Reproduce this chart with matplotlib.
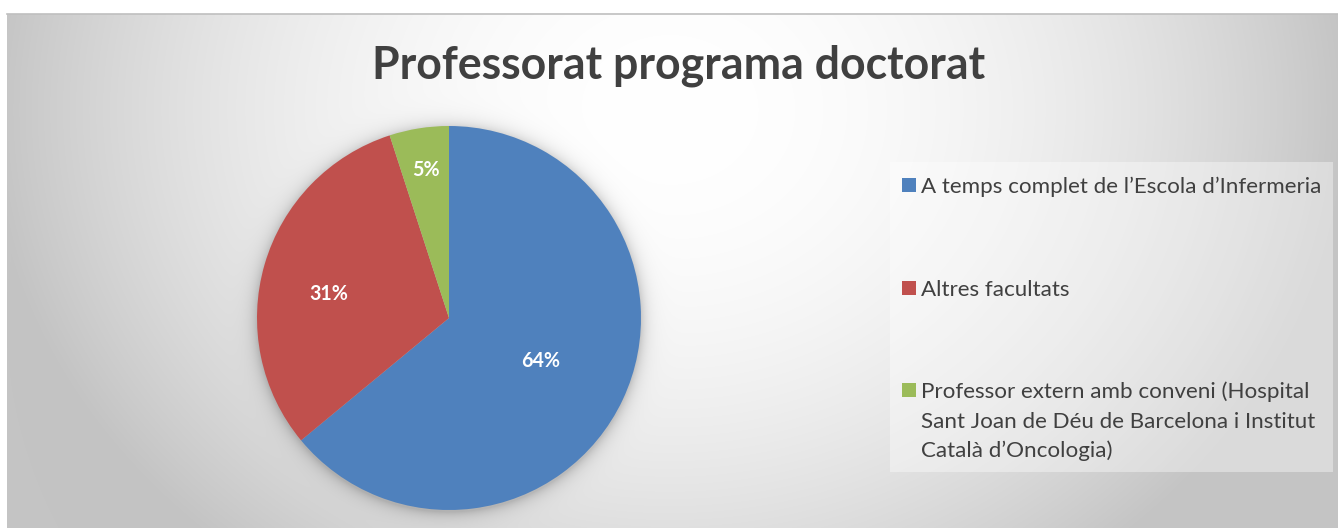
import numpy as np
import matplotlib
matplotlib.use("Agg")
import matplotlib.pyplot as plt
from matplotlib.patches import Rectangle
from matplotlib.lines import Line2D

# ---------------- data ----------------
title = "Professorat programa doctorat"
categories = [
    "A temps complet de l\u2019Escola d\u2019Infermeria",
    "Altres facultats",
    "Professor extern amb conveni (Hospital\nSant Joan de D\u00e9u de Barcelona i Institut\nCatal\u00e0 d\u2019Oncologia)",
]
values = [64, 31, 5]
pct_labels = ["64%", "31%", "5%"]

# ---------------- style ----------------
colors = ["#4F81BD", "#C0504D", "#9BBB59"]
text_color = "#404040"
FONT = ["Lato", "DejaVu Sans"]
label_dist = [0.53, 0.64, 0.78]
label_ang_shift = [0.0, 5.0, 0.0]

W, H, DPI = 1338, 529, 100
fig = plt.figure(figsize=(W / DPI, H / DPI), dpi=DPI)
fig.patch.set_facecolor("white")
renderer = fig.canvas.get_renderer()


def fx(px):
    return px / W


def fy(py):
    return 1 - py / H


def fit_size(text, target_px, weight="normal", base=20):
    t = fig.text(0, 0, text, fontsize=base, family=FONT, fontweight=weight)
    w = t.get_window_extent(renderer=renderer).width
    t.remove()
    return base * target_px / w


# chart area (pixels)
cx0, cx1, cy0, cy1 = 7, 1338, 14, 528
# pie geometry (pixels)
pcx, pcy, pr = 449, 318, 192

# ---------------- background gradient with pie shadow ----------------
xs = cx0 + np.arange(cx1 - cx0) + 0.5
ys = cy0 + np.arange(cy1 - cy0) + 0.5
X, Y = np.meshgrid(xs, ys)
gx, gy, rx, ry = 670, 110, 680, 575
t = np.sqrt(((X - gx) / rx) ** 2 + ((Y - gy) / ry) ** 2)
f = np.clip(t, 0, 1) ** 2
v = (255 - f * (255 - 196)) / 255.0
d = np.sqrt((X - pcx) ** 2 + (Y - (pcy + 2)) ** 2)
shadow = 0.19 * np.exp(-np.clip(d - pr, 0, None) / 7.0)
v = v * (1 - shadow)
img = np.dstack([v, v, v])

bg = fig.add_axes([fx(cx0), fy(cy1), fx(cx1 - cx0), (cy1 - cy0) / H])
bg.imshow(img, extent=(0, 1, 0, 1), aspect="auto", interpolation="bilinear", origin="upper")
bg.set_xlim(0, 1)
bg.set_ylim(0, 1)
bg.axis("off")

fig.add_artist(Line2D([fx(cx0), 1], [fy(13.5), fy(13.5)], color="#BFBFBF", lw=1.2,
                      transform=fig.transFigure))

# ---------------- title ----------------
tsize = fit_size(title, 612, weight="bold")
fig.text(fx(679), fy(66), title, ha="center", va="center", fontsize=tsize,
         fontweight="bold", family=FONT, color=text_color)

# ---------------- pie ----------------
ax = fig.add_axes([fx(pcx - pr), fy(pcy + pr), 2 * pr / W, 2 * pr / H])
wedges, _ = ax.pie(values, colors=colors, startangle=90, counterclock=False,
                   radius=1, wedgeprops=dict(linewidth=0))
ax.set_xlim(-1, 1)
ax.set_ylim(-1, 1)
ax.set_aspect("auto")
ax.axis("off")

lsize = fit_size("64%", 39, weight="bold")
for w, lab, dist, sh in zip(wedges, pct_labels, label_dist, label_ang_shift):
    ang = np.deg2rad((w.theta1 + w.theta2) / 2 + sh)
    ax.text(dist * np.cos(ang), dist * np.sin(ang), lab, ha="center", va="center",
            color="white", fontweight="bold", fontsize=lsize, family=FONT)

# ---------------- legend ----------------
fig.add_artist(Rectangle((fx(890), fy(472)), fx(1333 - 890), (472 - 162) / H,
                         transform=fig.transFigure, facecolor="white", alpha=0.38,
                         edgecolor="none"))
gsize = fit_size(categories[0], 400)
entry_y = [185, 288, 390]
line_step = 29.5
for cat, col, ey in zip(categories, colors, entry_y):
    fig.add_artist(Rectangle((fx(902), fy(ey + 7)), fx(14), 14 / H,
                             transform=fig.transFigure, facecolor=col, edgecolor="none"))
    for i, line in enumerate(cat.split("\n")):
        fig.text(fx(921), fy(ey + i * line_step), line, ha="left", va="center_baseline",
                 fontsize=gsize, family=FONT, color=text_color)

fig.savefig("out.png", dpi=DPI, facecolor="white")
